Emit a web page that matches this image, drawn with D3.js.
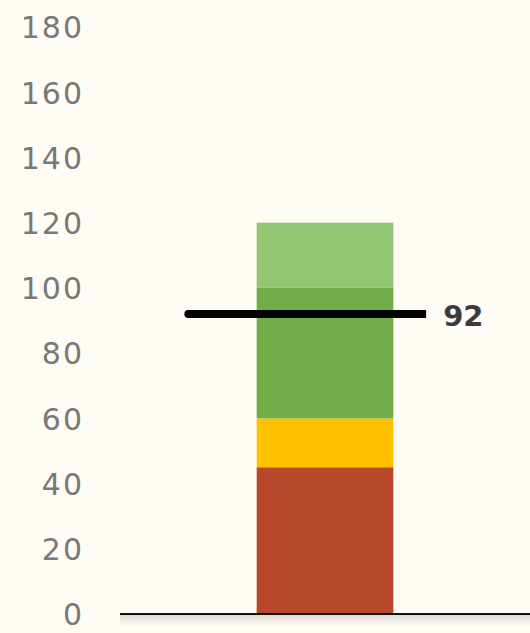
<!DOCTYPE html>
<html>
<head>
<meta charset="utf-8">
<script src="https://cdn.jsdelivr.net/npm/d3@7"></script>
<style>
  html, body { margin: 0; padding: 0; background: #fffcf5; }
  svg { display: block; }
  .y-axis text { font-family: 'DejaVu Sans', sans-serif; font-size: 30px; letter-spacing: 2px; fill: #7a7777; }
  .target-label { font-family: 'DejaVu Sans', sans-serif; font-weight: bold; font-size: 29px; fill: #3b3b3b; }
</style>
</head>
<body>
<svg id="chart" width="530" height="633"></svg>
<script>
const categories = ['Score'];
const segmentNames = ['poor', 'fair', 'good', 'excellent'];
const segmentValues = [45, 15, 40, 20];
const segmentColors = ['#b8482b', '#ffc000', '#70ad47', '#92c572'];
const targetValue = 92;
const yTicks = [0, 20, 40, 60, 80, 100, 120, 140, 160, 180];

const width = 530;
const svg = d3.select('#chart');

const x = d3.scaleBand().domain(categories).range([120, 530]).padding(0.5);
const y = d3.scaleLinear().domain([0, 180]).range([614, 27]);

// stack segments
let acc = 0;
const stacked = segmentValues.map((v, i) => {
  const d = { name: segmentNames[i], y0: acc, y1: acc + v, color: segmentColors[i] };
  acc += v;
  return d;
});

const defs = svg.append('defs');
const grad = defs.append('linearGradient')
  .attr('id', 'shadow')
  .attr('x1', 0).attr('y1', 0).attr('x2', 0).attr('y2', 1);
grad.append('stop').attr('offset', '0%').attr('stop-color', '#000').attr('stop-opacity', 0.13);
grad.append('stop').attr('offset', '100%').attr('stop-color', '#000').attr('stop-opacity', 0);

// y axis labels only
svg.append('g')
  .attr('class', 'y-axis')
  .attr('transform', 'translate(122,0)')
  .call(d3.axisLeft(y).tickValues(yTicks).tickSize(0).tickPadding(38))
  .call((g) => g.select('.domain').remove())
  .selectAll('text')
  .attr('dy', '0.36em');

// bars
svg.append('g')
  .selectAll('rect')
  .data(stacked)
  .join('rect')
  .attr('x', x(categories[0]))
  .attr('width', x.bandwidth())
  .attr('y', (d) => y(d.y1))
  .attr('height', (d) => y(d.y0) - y(d.y1))
  .attr('fill', (d) => d.color);

// baseline with soft shadow
svg.append('rect')
  .attr('x', 120)
  .attr('y', y(0) + 1)
  .attr('width', width - 120)
  .attr('height', 12)
  .attr('fill', 'url(#shadow)');

svg.append('line')
  .attr('x1', 120)
  .attr('x2', width)
  .attr('y1', y(0))
  .attr('y2', y(0))
  .attr('stroke', '#111')
  .attr('stroke-width', 2);

// target marker
const bx = x(categories[0]);
const bw = x.bandwidth();
const tx1 = bx - bw * 0.5;
const tx2 = bx + bw * 1.24;

svg.append('line')
  .attr('x1', tx1)
  .attr('x2', tx2)
  .attr('y1', y(targetValue))
  .attr('y2', y(targetValue))
  .attr('stroke', '#000')
  .attr('stroke-width', 8);

svg.append('circle')
  .attr('cx', tx1)
  .attr('cy', y(targetValue))
  .attr('r', 4)
  .attr('fill', '#000');

svg.append('text')
  .attr('class', 'target-label')
  .attr('x', tx2 + 17)
  .attr('y', y(targetValue))
  .attr('dy', '0.4em')
  .text(targetValue);
</script>
</body>
</html>
